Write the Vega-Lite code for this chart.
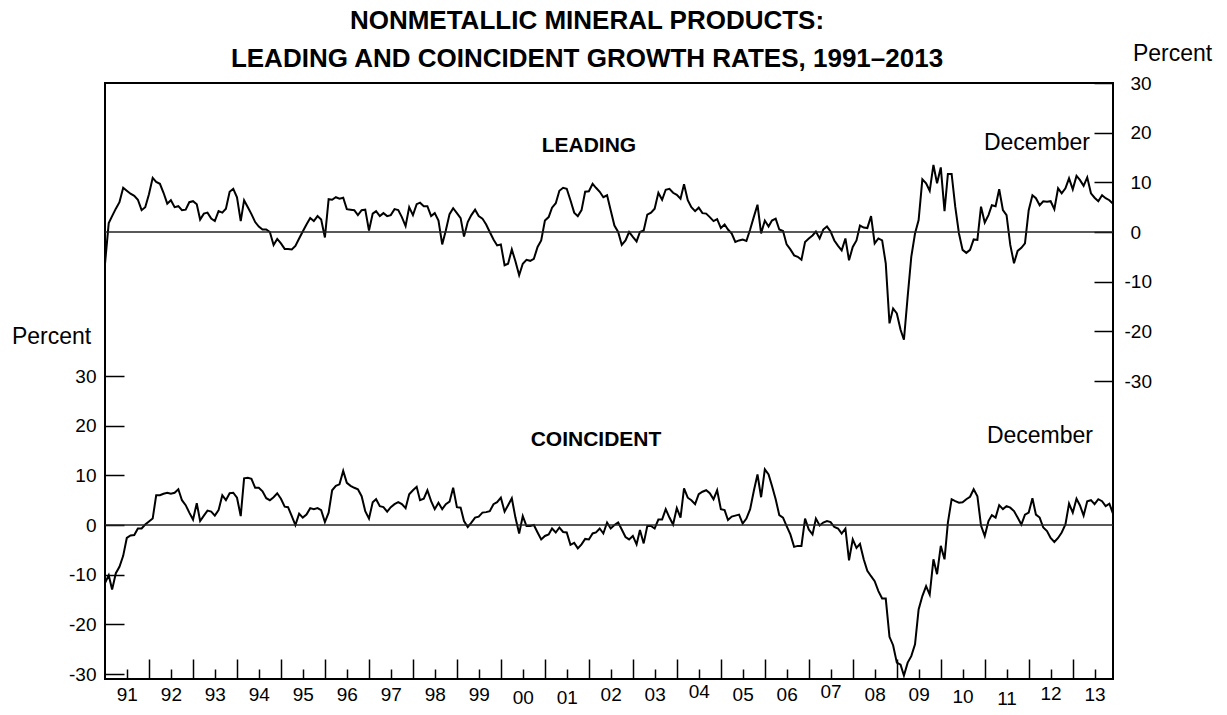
{
 "$schema": "https://vega.github.io/schema/vega-lite/v6.json",
 "width": 1008, "height": 596,
 "autosize": {"type": "none"},
 "padding": {"left": 105, "top": 83, "right": 114, "bottom": 36},
 "background": "white",
 "config": {
  "view": {"stroke": "black", "strokeWidth": 2},
  "font": "Liberation Sans",
  "axis": {"labelFont": "Liberation Sans", "titleFont": "Liberation Sans", "labelColor": "black", "titleColor": "black", "tickColor": "black", "labelFontSize": 19, "titleFontSize": 23, "titleFontWeight": "normal", "domain": false, "grid": false, "tickWidth": 1.5, "labelOverlap": false}
 },
 "title": {"text": ["NONMETALLIC MINERAL PRODUCTS:", "LEADING AND COINCIDENT GROWTH RATES, 1991–2013"], "font": "Liberation Sans", "fontSize": 26, "fontWeight": "bold", "color": "black", "lineHeight": 38, "anchor": "middle", "frame": "group", "dx": -22, "offset": -30},
 "datasets": {"m": [
  {"d":"1991-01-01","l":-6.4,"c":-11.7},{"d":"1991-02-01","l":1.8,"c":-10.1},{"d":"1991-03-01","l":3.2,"c":-13.0},{"d":"1991-04-01","l":4.7,"c":-9.7},{"d":"1991-05-01","l":6.0,"c":-8.4},{"d":"1991-06-01","l":8.9,"c":-6.2},{"d":"1991-07-01","l":8.3,"c":-2.6},{"d":"1991-08-01","l":7.7,"c":-2.1},{"d":"1991-09-01","l":7.3,"c":-2.0},{"d":"1991-10-01","l":6.5,"c":-0.7},{"d":"1991-11-01","l":4.4,"c":-0.7},{"d":"1991-12-01","l":5.0,"c":0.1},
  {"d":"1992-01-01","l":7.6,"c":0.7},{"d":"1992-02-01","l":10.9,"c":1.3},{"d":"1992-03-01","l":10.1,"c":6.0},{"d":"1992-04-01","l":9.7,"c":6.0},{"d":"1992-05-01","l":7.9,"c":6.3},{"d":"1992-06-01","l":5.7,"c":6.5},{"d":"1992-07-01","l":6.4,"c":6.3},{"d":"1992-08-01","l":5.0,"c":6.5},{"d":"1992-09-01","l":5.2,"c":7.2},{"d":"1992-10-01","l":4.4,"c":5.0},{"d":"1992-11-01","l":4.5,"c":4.0},{"d":"1992-12-01","l":6.0,"c":2.5},
  {"d":"1993-01-01","l":6.2,"c":1.1},{"d":"1993-02-01","l":5.6,"c":4.4},{"d":"1993-03-01","l":2.5,"c":0.8},{"d":"1993-04-01","l":3.7,"c":1.9},{"d":"1993-05-01","l":3.9,"c":2.9},{"d":"1993-06-01","l":2.7,"c":2.7},{"d":"1993-07-01","l":2.2,"c":1.9},{"d":"1993-08-01","l":4.2,"c":3.0},{"d":"1993-09-01","l":3.9,"c":6.0},{"d":"1993-10-01","l":4.7,"c":5.0},{"d":"1993-11-01","l":8.1,"c":6.4},{"d":"1993-12-01","l":8.7,"c":6.5},
  {"d":"1994-01-01","l":7.0,"c":5.5},{"d":"1994-02-01","l":2.2,"c":1.8},{"d":"1994-03-01","l":6.4,"c":9.4},{"d":"1994-04-01","l":5.0,"c":9.5},{"d":"1994-05-01","l":3.6,"c":9.3},{"d":"1994-06-01","l":2.0,"c":7.5},{"d":"1994-07-01","l":1.1,"c":7.5},{"d":"1994-08-01","l":0.5,"c":6.8},{"d":"1994-09-01","l":0.5,"c":5.4},{"d":"1994-10-01","l":0.0,"c":5.0},{"d":"1994-11-01","l":-2.6,"c":5.6},{"d":"1994-12-01","l":-1.4,"c":6.4},
  {"d":"1995-01-01","l":-2.3,"c":5.3},{"d":"1995-02-01","l":-3.4,"c":3.7},{"d":"1995-03-01","l":-3.4,"c":3.6},{"d":"1995-04-01","l":-3.5,"c":1.8},{"d":"1995-05-01","l":-2.8,"c":0.0},{"d":"1995-06-01","l":-1.3,"c":2.3},{"d":"1995-07-01","l":0.1,"c":1.5},{"d":"1995-08-01","l":1.5,"c":2.1},{"d":"1995-09-01","l":2.8,"c":3.4},{"d":"1995-10-01","l":2.2,"c":3.2},{"d":"1995-11-01","l":3.2,"c":3.4},{"d":"1995-12-01","l":2.5,"c":3.0},
  {"d":"1996-01-01","l":-1.1,"c":0.6},{"d":"1996-02-01","l":6.6,"c":2.5},{"d":"1996-03-01","l":6.5,"c":7.0},{"d":"1996-04-01","l":7.0,"c":7.9},{"d":"1996-05-01","l":6.7,"c":8.2},{"d":"1996-06-01","l":6.9,"c":10.9},{"d":"1996-07-01","l":4.6,"c":8.5},{"d":"1996-08-01","l":4.5,"c":7.9},{"d":"1996-09-01","l":4.4,"c":7.5},{"d":"1996-10-01","l":3.4,"c":7.2},{"d":"1996-11-01","l":4.4,"c":5.8},{"d":"1996-12-01","l":4.5,"c":2.8},
  {"d":"1997-01-01","l":0.3,"c":1.3},{"d":"1997-02-01","l":3.7,"c":4.6},{"d":"1997-03-01","l":4.2,"c":5.2},{"d":"1997-04-01","l":3.2,"c":3.8},{"d":"1997-05-01","l":3.8,"c":3.6},{"d":"1997-06-01","l":3.2,"c":2.7},{"d":"1997-07-01","l":3.4,"c":3.6},{"d":"1997-08-01","l":4.6,"c":4.2},{"d":"1997-09-01","l":4.4,"c":4.6},{"d":"1997-10-01","l":3.0,"c":4.2},{"d":"1997-11-01","l":1.2,"c":3.4},{"d":"1997-12-01","l":5.0,"c":6.2},
  {"d":"1998-01-01","l":3.4,"c":7.0},{"d":"1998-02-01","l":5.6,"c":7.7},{"d":"1998-03-01","l":5.9,"c":5.0},{"d":"1998-04-01","l":5.2,"c":5.3},{"d":"1998-05-01","l":5.2,"c":7.0},{"d":"1998-06-01","l":3.2,"c":4.8},{"d":"1998-07-01","l":3.8,"c":3.2},{"d":"1998-08-01","l":2.3,"c":4.5},{"d":"1998-09-01","l":-2.5,"c":3.2},{"d":"1998-10-01","l":0.3,"c":4.2},{"d":"1998-11-01","l":3.6,"c":4.7},{"d":"1998-12-01","l":4.8,"c":7.5},
  {"d":"1999-01-01","l":3.8,"c":3.6},{"d":"1999-02-01","l":2.8,"c":3.5},{"d":"1999-03-01","l":-0.9,"c":0.8},{"d":"1999-04-01","l":2.0,"c":-0.4},{"d":"1999-05-01","l":3.4,"c":0.5},{"d":"1999-06-01","l":4.5,"c":1.5},{"d":"1999-07-01","l":3.2,"c":1.7},{"d":"1999-08-01","l":2.7,"c":2.5},{"d":"1999-09-01","l":1.5,"c":2.6},{"d":"1999-10-01","l":0.0,"c":2.8},{"d":"1999-11-01","l":-1.5,"c":4.2},{"d":"1999-12-01","l":-2.7,"c":4.6},
  {"d":"2000-01-01","l":-2.5,"c":5.5},{"d":"2000-02-01","l":-6.7,"c":2.7},{"d":"2000-03-01","l":-6.4,"c":4.0},{"d":"2000-04-01","l":-3.5,"c":5.4},{"d":"2000-05-01","l":-5.9,"c":1.5},{"d":"2000-06-01","l":-8.7,"c":-1.7},{"d":"2000-07-01","l":-6.4,"c":1.8},{"d":"2000-08-01","l":-5.6,"c":-0.2},{"d":"2000-09-01","l":-5.8,"c":-0.2},{"d":"2000-10-01","l":-5.4,"c":0.0},{"d":"2000-11-01","l":-3.0,"c":-1.5},{"d":"2000-12-01","l":-1.7,"c":-2.9},
  {"d":"2001-01-01","l":2.3,"c":-2.2},{"d":"2001-02-01","l":3.0,"c":-1.9},{"d":"2001-03-01","l":4.9,"c":-0.7},{"d":"2001-04-01","l":5.8,"c":-1.5},{"d":"2001-05-01","l":8.3,"c":-0.5},{"d":"2001-06-01","l":8.9,"c":-1.4},{"d":"2001-07-01","l":8.7,"c":-1.5},{"d":"2001-08-01","l":6.4,"c":-4.0},{"d":"2001-09-01","l":3.9,"c":-3.6},{"d":"2001-10-01","l":3.2,"c":-4.7},{"d":"2001-11-01","l":4.4,"c":-3.9},{"d":"2001-12-01","l":8.1,"c":-2.8},
  {"d":"2002-01-01","l":8.2,"c":-2.9},{"d":"2002-02-01","l":9.7,"c":-1.7},{"d":"2002-03-01","l":8.9,"c":-1.5},{"d":"2002-04-01","l":8.1,"c":-0.7},{"d":"2002-05-01","l":7.0,"c":-1.7},{"d":"2002-06-01","l":7.4,"c":0.5},{"d":"2002-07-01","l":4.4,"c":-0.7},{"d":"2002-08-01","l":1.3,"c":0.0},{"d":"2002-09-01","l":0.0,"c":0.5},{"d":"2002-10-01","l":-2.6,"c":-0.9},{"d":"2002-11-01","l":-1.7,"c":-2.4},{"d":"2002-12-01","l":0.0,"c":-2.9},
  {"d":"2003-01-01","l":-1.0,"c":-2.2},{"d":"2003-02-01","l":-1.9,"c":-3.9},{"d":"2003-03-01","l":0.0,"c":-1.0},{"d":"2003-04-01","l":0.3,"c":-3.7},{"d":"2003-05-01","l":3.5,"c":-0.2},{"d":"2003-06-01","l":3.9,"c":-0.2},{"d":"2003-07-01","l":4.7,"c":-0.7},{"d":"2003-08-01","l":7.9,"c":1.1},{"d":"2003-09-01","l":6.5,"c":1.1},{"d":"2003-10-01","l":8.5,"c":3.2},{"d":"2003-11-01","l":8.7,"c":1.5},{"d":"2003-12-01","l":7.9,"c":0.1},
  {"d":"2004-01-01","l":7.5,"c":3.4},{"d":"2004-02-01","l":6.7,"c":1.5},{"d":"2004-03-01","l":9.6,"c":7.4},{"d":"2004-04-01","l":6.4,"c":5.5},{"d":"2004-05-01","l":5.0,"c":5.0},{"d":"2004-06-01","l":4.2,"c":4.2},{"d":"2004-07-01","l":4.9,"c":6.2},{"d":"2004-08-01","l":3.8,"c":6.7},{"d":"2004-09-01","l":3.7,"c":7.0},{"d":"2004-10-01","l":3.0,"c":6.4},{"d":"2004-11-01","l":2.2,"c":5.2},{"d":"2004-12-01","l":2.6,"c":7.0},
  {"d":"2005-01-01","l":0.8,"c":3.2},{"d":"2005-02-01","l":1.5,"c":3.0},{"d":"2005-03-01","l":0.5,"c":1.0},{"d":"2005-04-01","l":-0.3,"c":1.7},{"d":"2005-05-01","l":-2.0,"c":1.9},{"d":"2005-06-01","l":-1.7,"c":2.1},{"d":"2005-07-01","l":-1.5,"c":0.3},{"d":"2005-08-01","l":-1.8,"c":1.3},{"d":"2005-09-01","l":0.5,"c":3.2},{"d":"2005-10-01","l":3.0,"c":6.8},{"d":"2005-11-01","l":5.5,"c":10.2},{"d":"2005-12-01","l":-0.3,"c":5.6},
  {"d":"2006-01-01","l":2.3,"c":11.2},{"d":"2006-02-01","l":1.1,"c":10.2},{"d":"2006-03-01","l":2.3,"c":7.9},{"d":"2006-04-01","l":2.7,"c":5.2},{"d":"2006-05-01","l":0.5,"c":2.0},{"d":"2006-06-01","l":0.2,"c":1.5},{"d":"2006-07-01","l":-2.5,"c":-0.2},{"d":"2006-08-01","l":-3.5,"c":-1.9},{"d":"2006-09-01","l":-4.7,"c":-4.4},{"d":"2006-10-01","l":-5.0,"c":-4.2},{"d":"2006-11-01","l":-5.6,"c":-4.2},{"d":"2006-12-01","l":-2.0,"c":1.3},
  {"d":"2007-01-01","l":-1.3,"c":-0.9},{"d":"2007-02-01","l":-0.7,"c":-1.9},{"d":"2007-03-01","l":0.1,"c":1.3},{"d":"2007-04-01","l":-1.3,"c":-0.1},{"d":"2007-05-01","l":0.5,"c":0.5},{"d":"2007-06-01","l":1.1,"c":0.8},{"d":"2007-07-01","l":0.1,"c":0.6},{"d":"2007-08-01","l":-1.7,"c":-0.4},{"d":"2007-09-01","l":-2.8,"c":-0.7},{"d":"2007-10-01","l":-3.7,"c":-1.7},{"d":"2007-11-01","l":-1.3,"c":-0.7},{"d":"2007-12-01","l":-5.7,"c":-7.1},
  {"d":"2008-01-01","l":-3.0,"c":-2.9},{"d":"2008-02-01","l":-1.7,"c":-4.6},{"d":"2008-03-01","l":1.3,"c":-3.8},{"d":"2008-04-01","l":0.9,"c":-6.9},{"d":"2008-05-01","l":0.8,"c":-9.2},{"d":"2008-06-01","l":3.2,"c":-10.3},{"d":"2008-07-01","l":-2.3,"c":-11.3},{"d":"2008-08-01","l":-1.3,"c":-13.3},{"d":"2008-09-01","l":-1.7,"c":-14.8},{"d":"2008-10-01","l":-6.3,"c":-14.8},{"d":"2008-11-01","l":-18.4,"c":-22.5},{"d":"2008-12-01","l":-15.4,"c":-24.2},
  {"d":"2009-01-01","l":-16.4,"c":-27.7},{"d":"2009-02-01","l":-19.7,"c":-28.1},{"d":"2009-03-01","l":-21.7,"c":-30.3},{"d":"2009-04-01","l":-13.0,"c":-27.7},{"d":"2009-05-01","l":-5.0,"c":-26.4},{"d":"2009-06-01","l":-0.3,"c":-24.0},{"d":"2009-07-01","l":2.4,"c":-17.0},{"d":"2009-08-01","l":10.6,"c":-14.3},{"d":"2009-09-01","l":9.8,"c":-12.3},{"d":"2009-10-01","l":8.3,"c":-14.0},{"d":"2009-11-01","l":13.5,"c":-6.9},{"d":"2009-12-01","l":9.8,"c":-9.9},
  {"d":"2010-01-01","l":13.0,"c":-4.2},{"d":"2010-02-01","l":4.2,"c":-6.9},{"d":"2010-03-01","l":11.7,"c":0.5},{"d":"2010-04-01","l":11.7,"c":5.2},{"d":"2010-05-01","l":5.1,"c":4.8},{"d":"2010-06-01","l":-0.3,"c":4.5},{"d":"2010-07-01","l":-3.6,"c":4.6},{"d":"2010-08-01","l":-4.2,"c":5.2},{"d":"2010-09-01","l":-3.6,"c":5.7},{"d":"2010-10-01","l":-1.5,"c":7.2},{"d":"2010-11-01","l":-1.6,"c":5.8},{"d":"2010-12-01","l":5.1,"c":-0.1},
  {"d":"2011-01-01","l":1.9,"c":-2.2},{"d":"2011-02-01","l":3.4,"c":0.8},{"d":"2011-03-01","l":5.4,"c":2.0},{"d":"2011-04-01","l":5.2,"c":1.5},{"d":"2011-05-01","l":8.6,"c":4.0},{"d":"2011-06-01","l":4.4,"c":3.2},{"d":"2011-07-01","l":3.4,"c":3.8},{"d":"2011-08-01","l":-2.6,"c":3.5},{"d":"2011-09-01","l":-6.3,"c":2.8},{"d":"2011-10-01","l":-3.8,"c":1.5},{"d":"2011-11-01","l":-3.2,"c":0.1},{"d":"2011-12-01","l":-2.3,"c":2.1},
  {"d":"2012-01-01","l":4.4,"c":2.5},{"d":"2012-02-01","l":7.4,"c":5.4},{"d":"2012-03-01","l":6.8,"c":2.1},{"d":"2012-04-01","l":5.4,"c":1.5},{"d":"2012-05-01","l":6.2,"c":-0.5},{"d":"2012-06-01","l":6.1,"c":-1.2},{"d":"2012-07-01","l":6.2,"c":-2.6},{"d":"2012-08-01","l":4.6,"c":-3.4},{"d":"2012-09-01","l":8.8,"c":-2.6},{"d":"2012-10-01","l":7.8,"c":-1.5},{"d":"2012-11-01","l":8.8,"c":0.1},{"d":"2012-12-01","l":10.8,"c":4.3},
  {"d":"2013-01-01","l":8.6,"c":2.5},{"d":"2013-02-01","l":11.3,"c":5.3},{"d":"2013-03-01","l":10.5,"c":4.0},{"d":"2013-04-01","l":9.3,"c":1.9},{"d":"2013-05-01","l":11.0,"c":4.8},{"d":"2013-06-01","l":7.8,"c":5.0},{"d":"2013-07-01","l":6.9,"c":4.2},{"d":"2013-08-01","l":6.2,"c":5.2},{"d":"2013-09-01","l":7.4,"c":4.8},{"d":"2013-10-01","l":6.8,"c":3.8},{"d":"2013-11-01","l":6.4,"c":4.3},{"d":"2013-12-01","l":5.7,"c":2.3}
 ]},
 "layer": [
  {
   "data": {"name": "m"},
   "mark": {"type": "line", "color": "black", "strokeWidth": 2},
   "encoding": {
    "x": {"field": "d", "type": "temporal",
          "scale": {"type": "utc", "nice": false, "domain": [{"year": 1991, "month": 1, "date": 1, "utc": true}, {"year": 2013, "month": 12, "date": 1, "utc": true}]},
          "axis": {"orient": "bottom", "title": null, "labels": false, "tickSize": -20,
                   "values": [{"year":1992,"month":1,"date":1,"utc":true},{"year":1993,"month":1,"date":1,"utc":true},{"year":1994,"month":1,"date":1,"utc":true},{"year":1995,"month":1,"date":1,"utc":true},{"year":1996,"month":1,"date":1,"utc":true},{"year":1997,"month":1,"date":1,"utc":true},{"year":1998,"month":1,"date":1,"utc":true},{"year":1999,"month":1,"date":1,"utc":true},{"year":2000,"month":1,"date":1,"utc":true},{"year":2001,"month":1,"date":1,"utc":true},{"year":2002,"month":1,"date":1,"utc":true},{"year":2003,"month":1,"date":1,"utc":true},{"year":2004,"month":1,"date":1,"utc":true},{"year":2005,"month":1,"date":1,"utc":true},{"year":2006,"month":1,"date":1,"utc":true},{"year":2007,"month":1,"date":1,"utc":true},{"year":2008,"month":1,"date":1,"utc":true},{"year":2009,"month":1,"date":1,"utc":true},{"year":2010,"month":1,"date":1,"utc":true},{"year":2011,"month":1,"date":1,"utc":true},{"year":2012,"month":1,"date":1,"utc":true},{"year":2013,"month":1,"date":1,"utc":true}]}},
    "y": {"field": "l", "type": "quantitative",
          "scale": {"domain": [-90, 30], "nice": false, "zero": false},
          "axis": {"orient": "right", "values": [-30, -20, -10, 0, 10, 20, 30], "tickSize": -19, "labelAlign": "left", "labelBaseline": "middle",
                   "labelExpr": "toString(datum.value)",
                   "labelPadding": {"condition": {"test": "datum.value < 0", "value": 30}, "value": 36},
                   "title": "Percent", "titleAngle": 0, "titleAlign": "center", "titleBaseline": "middle", "titleX": 59, "titleY": -30}}
   }
  },
  {
   "data": {"name": "m"},
   "mark": {"type": "line", "color": "black", "strokeWidth": 2},
   "encoding": {
    "x": {"field": "d", "type": "temporal",
          "scale": {"type": "utc", "nice": false, "domain": [{"year": 1991, "month": 1, "date": 1, "utc": true}, {"year": 2013, "month": 12, "date": 1, "utc": true}]},
          "axis": {"orient": "bottom", "title": null, "format": "%y", "tickSize": -10, "labelBaseline": "top", "labelAlign": "center",
                   "labelPadding": {"condition": [
                     {"test": "utcyear(datum.value) == 2000 || utcyear(datum.value) == 2001", "value": 19},
                     {"test": "utcyear(datum.value) == 2004 || utcyear(datum.value) == 2007", "value": 13},
                     {"test": "utcyear(datum.value) == 2010", "value": 18},
                     {"test": "utcyear(datum.value) == 2011", "value": 20},
                     {"test": "utcyear(datum.value) == 2012", "value": 15}
                   ], "value": 16},
                   "values": [{"year":1991,"month":7,"date":1,"utc":true},{"year":1992,"month":7,"date":1,"utc":true},{"year":1993,"month":7,"date":1,"utc":true},{"year":1994,"month":7,"date":1,"utc":true},{"year":1995,"month":7,"date":1,"utc":true},{"year":1996,"month":7,"date":1,"utc":true},{"year":1997,"month":7,"date":1,"utc":true},{"year":1998,"month":7,"date":1,"utc":true},{"year":1999,"month":7,"date":1,"utc":true},{"year":2000,"month":7,"date":1,"utc":true},{"year":2001,"month":7,"date":1,"utc":true},{"year":2002,"month":7,"date":1,"utc":true},{"year":2003,"month":7,"date":1,"utc":true},{"year":2004,"month":7,"date":1,"utc":true},{"year":2005,"month":7,"date":1,"utc":true},{"year":2006,"month":7,"date":1,"utc":true},{"year":2007,"month":7,"date":1,"utc":true},{"year":2008,"month":7,"date":1,"utc":true},{"year":2009,"month":7,"date":1,"utc":true},{"year":2010,"month":7,"date":1,"utc":true},{"year":2011,"month":7,"date":1,"utc":true},{"year":2012,"month":7,"date":1,"utc":true},{"year":2013,"month":7,"date":1,"utc":true}]}},
    "y": {"field": "c", "type": "quantitative",
          "scale": {"domain": [-31, 89], "nice": false, "zero": false},
          "axis": {"orient": "left", "values": [-30, -20, -10, 0, 10, 20, 30], "tickSize": -19, "labelPadding": 28, "labelBaseline": "middle",
                   "labelExpr": "toString(datum.value)",
                   "title": "Percent", "titleAngle": 0, "titleAlign": "center", "titleBaseline": "middle", "titleX": -54, "titleY": 253}}
   }
  },
  {
   "data": {"values": [{}]},
   "mark": {"type": "rule", "color": "#222222", "strokeWidth": 1.5},
   "encoding": {"y": {"datum": 0, "type": "quantitative", "scale": {"domain": [-90, 30], "nice": false, "zero": false}, "axis": null}}
  },
  {
   "data": {"values": [{}]},
   "mark": {"type": "rule", "color": "#222222", "strokeWidth": 1.5},
   "encoding": {"y": {"datum": 0, "type": "quantitative", "scale": {"domain": [-31, 89], "nice": false, "zero": false}, "axis": null}}
  },
  {
   "data": {"values": [{"d": "2002-01-01", "v": 17.3, "t": "LEADING"}]},
   "mark": {"type": "text", "font": "Liberation Sans", "fontSize": 21, "fontWeight": "bold", "color": "black", "align": "center", "baseline": "middle"},
   "encoding": {
    "x": {"field": "d", "type": "temporal", "axis": null, "scale": {"type": "utc", "nice": false, "domain": [{"year": 1991, "month": 1, "date": 1, "utc": true}, {"year": 2013, "month": 12, "date": 1, "utc": true}]}},
    "y": {"field": "v", "type": "quantitative", "axis": null, "scale": {"domain": [-90, 30], "nice": false, "zero": false}},
    "text": {"field": "t"}
   }
  },
  {
   "data": {"values": [{"d": "2002-03-01", "v": 17.1, "t": "COINCIDENT"}]},
   "mark": {"type": "text", "font": "Liberation Sans", "fontSize": 21, "fontWeight": "bold", "color": "black", "align": "center", "baseline": "middle"},
   "encoding": {
    "x": {"field": "d", "type": "temporal", "axis": null, "scale": {"type": "utc", "nice": false, "domain": [{"year": 1991, "month": 1, "date": 1, "utc": true}, {"year": 2013, "month": 12, "date": 1, "utc": true}]}},
    "y": {"field": "v", "type": "quantitative", "axis": null, "scale": {"domain": [-31, 89], "nice": false, "zero": false}},
    "text": {"field": "t"}
   }
  },
  {
   "data": {"values": [{"d": "2013-05-24", "v": 18.0, "t": "December"}]},
   "mark": {"type": "text", "font": "Liberation Sans", "fontSize": 23, "color": "black", "align": "right", "baseline": "middle"},
   "encoding": {
    "x": {"field": "d", "type": "temporal", "axis": null, "scale": {"type": "utc", "nice": false, "domain": [{"year": 1991, "month": 1, "date": 1, "utc": true}, {"year": 2013, "month": 12, "date": 1, "utc": true}]}},
    "y": {"field": "v", "type": "quantitative", "axis": null, "scale": {"domain": [-90, 30], "nice": false, "zero": false}},
    "text": {"field": "t"}
   }
  },
  {
   "data": {"values": [{"d": "2013-06-18", "v": 17.9, "t": "December"}]},
   "mark": {"type": "text", "font": "Liberation Sans", "fontSize": 23, "color": "black", "align": "right", "baseline": "middle"},
   "encoding": {
    "x": {"field": "d", "type": "temporal", "axis": null, "scale": {"type": "utc", "nice": false, "domain": [{"year": 1991, "month": 1, "date": 1, "utc": true}, {"year": 2013, "month": 12, "date": 1, "utc": true}]}},
    "y": {"field": "v", "type": "quantitative", "axis": null, "scale": {"domain": [-31, 89], "nice": false, "zero": false}},
    "text": {"field": "t"}
   }
  }
 ],
 "resolve": {"scale": {"y": "independent"}, "axis": {"x": "independent", "y": "independent"}}
}
